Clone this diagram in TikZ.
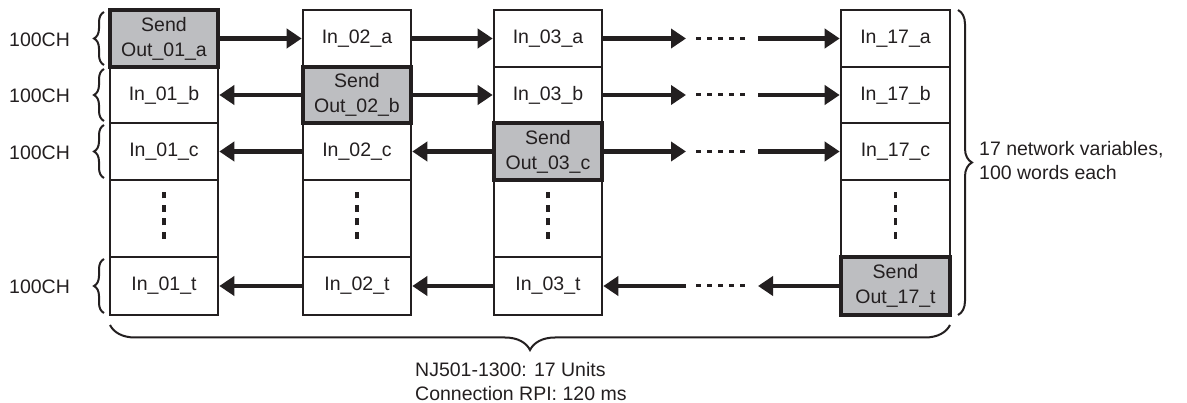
\documentclass[tikz,border=0pt]{standalone}
\usepackage{fontspec}
\setmainfont{Liberation Sans}
\usetikzlibrary{arrows.meta,decorations.pathreplacing}
\definecolor{shade}{RGB}{189,190,193}
\definecolor{ink}{RGB}{35,31,32}
\begin{document}
\begin{tikzpicture}[x=1pt,y=-1pt,
  every node/.style={font=\fontsize{19.5}{25}\selectfont, text=ink},
  cell/.style={draw=ink, line width=2.6pt, fill=white, minimum width=108pt, inner sep=0pt, align=center},
  sendcell/.style={cell, fill=shade, line width=4pt},
  arr/.style={draw=ink, line width=4.5pt, -{Triangle[length=15pt,width=19pt]}},
  dashseg/.style={draw=ink, line width=3pt, dash pattern=on 5pt off 6pt},
  vdotseg/.style={draw=ink, line width=3.5pt, dash pattern=on 7pt off 6.5pt},
  brc/.style={draw=ink, line width=2pt, decorate, decoration={brace, amplitude=#1}},
  lbl/.style={inner sep=0pt, anchor=west},
  txt/.style={inner sep=0pt, anchor=base west}
]
\useasboundingbox (0,0) rectangle (1187,403);

% ---- ordinary cells ----
\node[cell, minimum height=56pt] (c1b) at (164,95) {In\_01\_b};
\node[cell, minimum height=57pt] (c1c) at (164,151.5) {In\_01\_c};
\node[cell, minimum height=77pt] (c1d) at (164,218.5) {};
\node[cell, minimum height=58pt] (c1t) at (164,286) {In\_01\_t};

\node[cell, minimum height=57pt] (c2a) at (357,38.5) {In\_02\_a};
\node[cell, minimum height=57pt] (c2c) at (357,151.5) {In\_02\_c};
\node[cell, minimum height=77pt] (c2d) at (357,218.5) {};
\node[cell, minimum height=58pt] (c2t) at (357,286) {In\_02\_t};

\node[cell, minimum height=57pt] (c3a) at (548,38.5) {In\_03\_a};
\node[cell, minimum height=56pt] (c3b) at (548,95) {In\_03\_b};
\node[cell, minimum height=77pt] (c3d) at (548,218.5) {};
\node[cell, minimum height=58pt] (c3t) at (548,286) {In\_03\_t};

\node[cell, minimum width=109pt, minimum height=57pt] (c17a) at (895.5,38.5) {In\_17\_a};
\node[cell, minimum width=109pt, minimum height=56pt] (c17b) at (895.5,95) {In\_17\_b};
\node[cell, minimum width=109pt, minimum height=57pt] (c17c) at (895.5,151.5) {In\_17\_c};
\node[cell, minimum width=109pt, minimum height=77pt] (c17d) at (895.5,218.5) {};

% ---- sending cells ----
\node[sendcell, minimum height=57pt] (c1a) at (164,38.5) {Send\\Out\_01\_a};
\node[sendcell, minimum height=56pt] (c2b) at (357,95) {Send\\Out\_02\_b};
\node[sendcell, minimum height=57pt] (c3c) at (548,151.5) {Send\\Out\_03\_c};
\node[sendcell, minimum width=109pt, minimum height=58pt] (c17t) at (895.5,286) {Send\\Out\_17\_t};

% ---- vertical dots ----
\foreach \c in {c1d,c2d,c3d,c17d}{
  \draw[vdotseg] ([yshift=-20.5pt]\c.center) -- ([yshift=26.5pt]\c.center);
}

% ---- free ends ----
\coordinate (ha) at (686,38.5);  \coordinate (ga1) at (696,38.5);  \coordinate (ga2) at (745,38.5);  \coordinate (ta) at (758,38.5);
\coordinate (hb) at (686,95);    \coordinate (gb1) at (696,95);    \coordinate (gb2) at (745,95);    \coordinate (tb) at (758,95);
\coordinate (hc) at (686,151.5); \coordinate (gc1) at (696,151.5); \coordinate (gc2) at (745,151.5); \coordinate (tc) at (758,151.5);
\coordinate (ht) at (686,286);   \coordinate (gt1) at (696,286);   \coordinate (gt2) at (745,286);   \coordinate (tt) at (758,286);

% ---- row a ----
\draw[arr] (c1a.east) -- (c2a.west);
\draw[arr] (c2a.east) -- (c3a.west);
\draw[arr] (c3a.east) -- (ha);
\draw[dashseg] (ga1) -- (ga2);
\draw[arr] (ta) -- (c17a.west);
% ---- row b ----
\draw[arr] (c2b.west) -- (c1b.east);
\draw[arr] (c2b.east) -- (c3b.west);
\draw[arr] (c3b.east) -- (hb);
\draw[dashseg] (gb1) -- (gb2);
\draw[arr] (tb) -- (c17b.west);
% ---- row c ----
\draw[arr] (c2c.west) -- (c1c.east);
\draw[arr] (c3c.west) -- (c2c.east);
\draw[arr] (c3c.east) -- (hc);
\draw[dashseg] (gc1) -- (gc2);
\draw[arr] (tc) -- (c17c.west);
% ---- row t ----
\draw[arr] (c2t.west) -- (c1t.east);
\draw[arr] (c3t.west) -- (c2t.east);
\draw[arr] (ht) -- (c3t.east);
\draw[dashseg] (gt1) -- (gt2);
\draw[arr] (c17t.west) -- (tt);

% ---- left braces and labels ----
\draw[brc=10pt] (104,65) -- (104,12);
\draw[brc=10pt] (104,121) -- (104,69);
\draw[brc=10pt] (104,178) -- (104,125);
\draw[brc=10pt] (104,313) -- (104,259);
\node[lbl] (la) at (9,39.5) {100CH};
\node[lbl] (lb) at (9,96) {100CH};
\node[lbl] (lc) at (9,152.5) {100CH};
\node[lbl] (lt) at (9,287) {100CH};

% ---- right brace ----
\draw[brc=14pt] (958,10) -- (958,315);
\node[txt] (r1) at (979,156) {17 network variables,};
\node[txt] (r2) at (979,180) {100 words each};

% ---- bottom brace ----
\draw[brc=25pt] (950,325) -- (110,325);
\node[txt] (b1) at (415,377) {NJ501-1300: 17 Units};
\node[txt] (b2) at (415,400.5) {Connection RPI: 120 ms};
\end{tikzpicture}
\end{document}
